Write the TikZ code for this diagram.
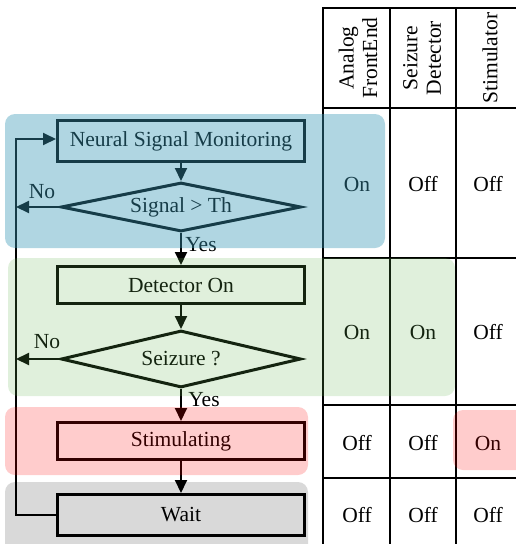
\documentclass[tikz,border=0pt]{standalone}
\usepackage{fontspec}
\setmainfont{Liberation Serif}
\usetikzlibrary{arrows.meta,shapes.geometric}
\definecolor{blueveil}{RGB}{57,152,182}
\definecolor{greenveil}{RGB}{100,180,80}
\definecolor{redveil}{RGB}{255,0,0}
\definecolor{grayveil}{RGB}{0,0,0}
\begin{document}
\begin{tikzpicture}[x=1pt,y=-1pt,
  font=\fontsize{21.5}{23.5}\selectfont,
  flowbox/.style={draw, line width=3pt, minimum width=247pt, inner sep=0pt},
  decision/.style={diamond, draw, line width=3pt, inner sep=0pt, minimum width=240pt},
  conn/.style={line width=2pt, -{Triangle[length=13pt,width=12pt]}},
  gridline/.style={line width=2pt},
  cell/.style={inner sep=0pt},
  head/.style={inner sep=0pt, rotate=90, align=center},
  veil/.style={rounded corners=10pt},
]
\useasboundingbox (0,0) rectangle (516,544);

% ---- flowchart ----
\node[flowbox, minimum height=41pt] (b1) at (181,141) {Neural Signal Monitoring};
\node[decision, minimum height=49pt] (d1) at (181,207) {\makebox[0pt]{Signal > Th}};
\node[flowbox, minimum height=37pt] (b2) at (181,285) {Detector On};
\node[decision, minimum height=57pt] (d2) at (181,359) {\makebox[0pt]{Seizure ?}};
\node[flowbox, minimum height=37pt] (b3) at (181,441) {Stimulating};
\node[flowbox, minimum height=41pt] (b4) at (181,515) {Wait};

\coordinate (loopbot) at (16,515);
\coordinate (looptop) at (16,139);

\draw[conn] (b1.south) -- (d1.north);
\draw[conn] (d1.south) -- (b2.north);
\draw[conn] (b2.south) -- (d2.north);
\draw[conn] (d2.south) -- (b3.north);
\draw[conn] (b3.south) -- (b4.north);
\draw[conn] (b4.west) -- (loopbot) -- (looptop) -- (looptop -| b1.west);
\draw[conn] (d1.west) -- (d1.west -| loopbot);
\draw[conn] (d2.west) -- (d2.west -| loopbot);

\node[cell] (no1) at (42,192) {No};
\node[cell] (no2) at (47,342) {No};
\node[cell] (yes1) at (201,245) {Yes};
\node[cell] (yes2) at (204,400) {Yes};

% ---- state table ----
\foreach \yy in {8,108,258,405,478}
  \draw[gridline] (323,\yy) -- (530,\yy);
\foreach \xx in {323,390,456}
  \draw[gridline] (\xx,7) -- (\xx,560);

\node[head] (h1) at (358,58) {Analog\\FrontEnd};
\node[head] (h2) at (422,58) {Seizure\\Detector};
\node[head] (h3) at (490,58) {Stimulator};

\node[cell] (c11) at (357,184) {On};
\node[cell] (c12) at (423,184) {Off};
\node[cell] (c13) at (488,184) {Off};
\node[cell] (c21) at (357,332) {On};
\node[cell] (c22) at (423,332) {On};
\node[cell] (c23) at (488,332) {Off};
\node[cell] (c31) at (357,443) {Off};
\node[cell] (c32) at (423,443) {Off};
\node[cell] (c33) at (488,443) {On};
\node[cell] (c41) at (357,515) {Off};
\node[cell] (c42) at (423,515) {Off};
\node[cell] (c43) at (488,515) {Off};

% ---- translucent phase bands ----
\fill[veil, blueveil, fill opacity=0.4] (5,114) rectangle (385,248);
\fill[veil, greenveil, fill opacity=0.2] (8,258) rectangle (455,396);
\fill[veil, redveil, fill opacity=0.2] (5,407) rectangle (308,475);
\fill[veil, redveil, fill opacity=0.2] (453,410) rectangle (540,470);
\fill[veil, grayveil, fill opacity=0.15] (5,482) rectangle (308,570);
\end{tikzpicture}
\end{document}
